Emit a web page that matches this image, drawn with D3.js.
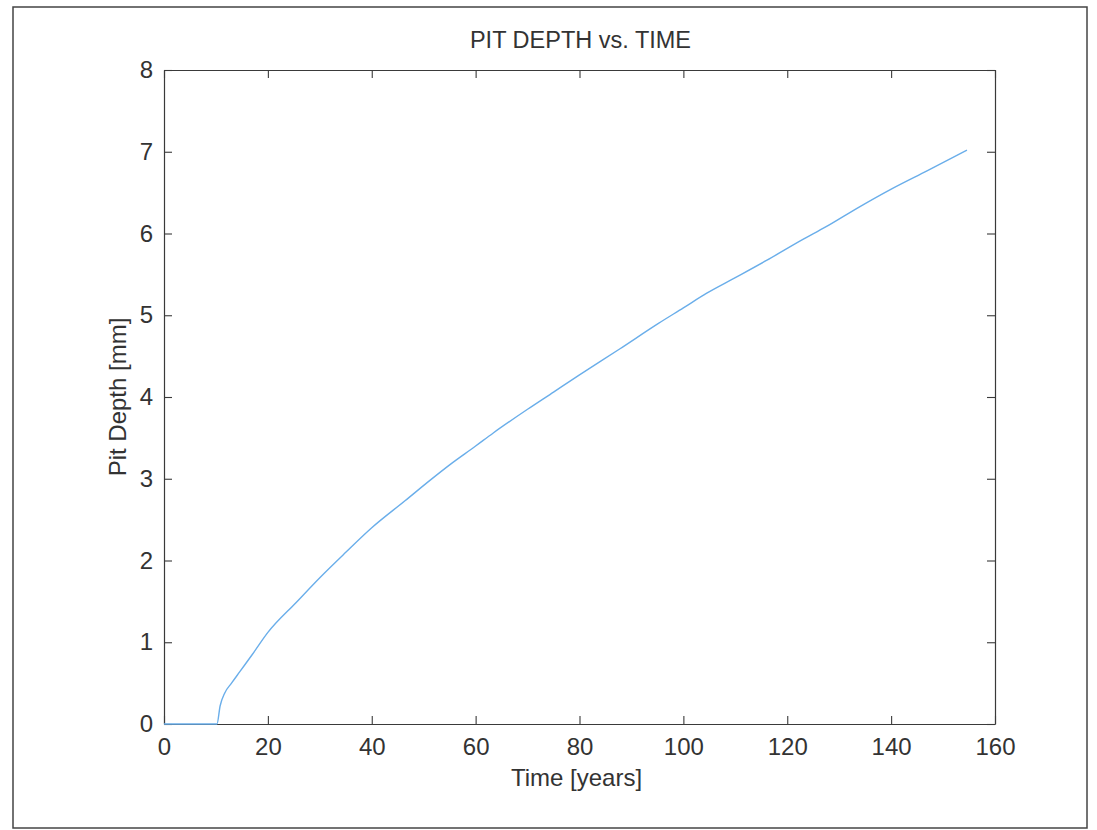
<!DOCTYPE html>
<html>
<head>
<meta charset="utf-8">
<script src="https://cdn.jsdelivr.net/npm/d3@7"></script>
<style>
  html, body { margin: 0; padding: 0; background: #fff; }
  svg { display: block; }
  text { font-family: "Liberation Sans", Arial, sans-serif; fill: #333; }
</style>
</head>
<body>
<svg id="chart" width="1097" height="830"></svg>
<script>
// ---- data ----
const years = [0, 5, 10.2, 10.8, 11.7, 13, 14.6, 17, 20, 25.5, 30, 35, 40, 46.4, 51.2, 55, 60, 63.4, 70, 75, 80, 87.8, 95.2, 100, 104.5, 110, 116, 123.1, 127.4, 134, 140.2, 147, 154.6];
const depth = [0, 0, 0, 0.22, 0.38, 0.50, 0.64, 0.85, 1.12, 1.49, 1.79, 2.10, 2.40, 2.73, 2.98, 3.17, 3.40, 3.56, 3.85, 4.06, 4.27, 4.59, 4.90, 5.09, 5.27, 5.46, 5.67, 5.93, 6.08, 6.33, 6.55, 6.77, 7.02];
const xTicks = [0, 20, 40, 60, 80, 100, 120, 140, 160];
const yTicks = [0, 1, 2, 3, 4, 5, 6, 7, 8];
const titleText = "PIT DEPTH vs. TIME";
const xLabelText = "Time [years]";
const yLabelText = "Pit Depth [mm]";

// ---- layout ----
const svg = d3.select("#chart");
const L = 164, R = 995, T = 70, B = 724;
const axisColor = "#3a3a3a";
const tickLen = 8;

// outer frame
svg.append("rect")
  .attr("x", 13).attr("y", 7)
  .attr("width", 1087 - 13).attr("height", 828 - 7)
  .attr("fill", "none").attr("stroke", "#444").attr("stroke-width", 1.5);

const x = d3.scaleLinear().domain([0, 160]).range([L, R]);
const y = d3.scaleLinear().domain([0, 8]).range([B, T]);

// bottom axis
const gx = svg.append("g").attr("transform", `translate(0,${B})`)
  .call(d3.axisBottom(x).tickValues(xTicks).tickSizeInner(-tickLen).tickSizeOuter(0).tickPadding(14));
// left axis
const gy = svg.append("g").attr("transform", `translate(${L},0)`)
  .call(d3.axisLeft(y).tickValues(yTicks).tickSizeInner(-tickLen).tickSizeOuter(0).tickPadding(11));
// top axis (ticks only)
const gt = svg.append("g").attr("transform", `translate(0,${T})`)
  .call(d3.axisTop(x).tickValues(xTicks).tickSizeInner(-tickLen).tickSizeOuter(0).tickFormat(""));
// right axis (ticks only)
const gr = svg.append("g").attr("transform", `translate(${R},0)`)
  .call(d3.axisRight(y).tickValues(yTicks).tickSizeInner(-tickLen).tickSizeOuter(0).tickFormat(""));

[gx, gy, gt, gr].forEach(g => {
  g.selectAll(".domain").attr("stroke", axisColor).attr("stroke-width", 1.2);
  g.selectAll(".tick line").attr("stroke", axisColor).attr("stroke-width", 1.1);
  g.selectAll(".tick text")
    .attr("font-family", '"Liberation Sans", Arial, sans-serif')
    .attr("font-size", 24).attr("fill", "#333");
});

// line
const line = d3.line()
  .x((d, i) => x(years[i]))
  .y((d, i) => y(depth[i]))
  .curve(d3.curveMonotoneX);
svg.append("path")
  .attr("d", line(depth))
  .attr("fill", "none")
  .attr("stroke", "#6aaeea")
  .attr("stroke-width", 1.4);

// title
svg.append("text")
  .attr("x", (L + R) / 2 + 1).attr("y", 48)
  .attr("text-anchor", "middle")
  .attr("font-size", 23.5)
  .text(titleText);

// x label
svg.append("text")
  .attr("x", (L + R) / 2 - 3).attr("y", 786)
  .attr("text-anchor", "middle")
  .attr("font-size", 24)
  .text(xLabelText);

// y label
svg.append("text")
  .attr("transform", `translate(126,${(T + B) / 2}) rotate(-90)`)
  .attr("text-anchor", "middle")
  .attr("font-size", 24)
  .text(yLabelText);
</script>
</body>
</html>
